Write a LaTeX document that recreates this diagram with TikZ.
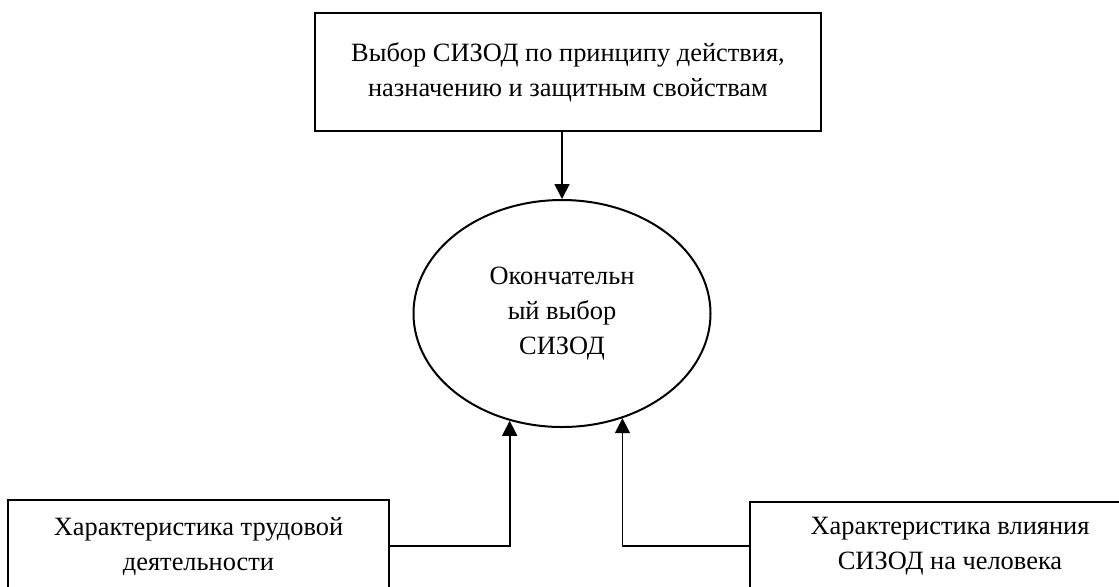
\documentclass[tikz,border=0pt]{standalone}
\usepackage{fontspec}
\setmainfont{Liberation Serif}
\usetikzlibrary{shapes.geometric,arrows.meta}

\begin{document}
\begin{tikzpicture}[x=0.5pt,y=-0.5pt,
	every node/.style={font=\fontsize{13.2pt}{17.5pt}\selectfont,align=center},
	blok/.style={rectangle,draw,line width=1pt,inner sep=0pt},
	oval/.style={ellipse,draw,line width=1pt,inner sep=0pt,minimum width=148.5pt,minimum height=113.5pt},
	arr/.style={-{Triangle[length=7.5pt,width=7.5pt]},line width=0.8pt}]
	\clip (0,0) rectangle (1119,586);

	\node 	(vybor)	at	(568,72) 	[blok,minimum width=253pt,minimum height=59pt]{Выбор СИЗОД по принципу действия,\\назначению и защитным свойствам};

	\node 	(itog)	at	(562,313.5) 	[oval]{Окончательн\\ый выбор\\СИЗОД};

	\node 	(trud)	at	(198.5,546) 	[blok,minimum width=190.5pt,minimum height=46pt]{Характеристика трудовой\\деятельности};

	\node 	(vliy)	at	(950,546) 	[blok,minimum width=200pt,minimum height=44pt]{Характеристика влияния\\СИЗОД на человека};

	\draw[arr] (vybor.south -| itog.north) to 		(itog.north);
	\draw[arr] (trud.east) -| 		(itog.244);
	\draw[arr] (vliy.west) -| 		(itog.300);

\end{tikzpicture}
\end{document}
